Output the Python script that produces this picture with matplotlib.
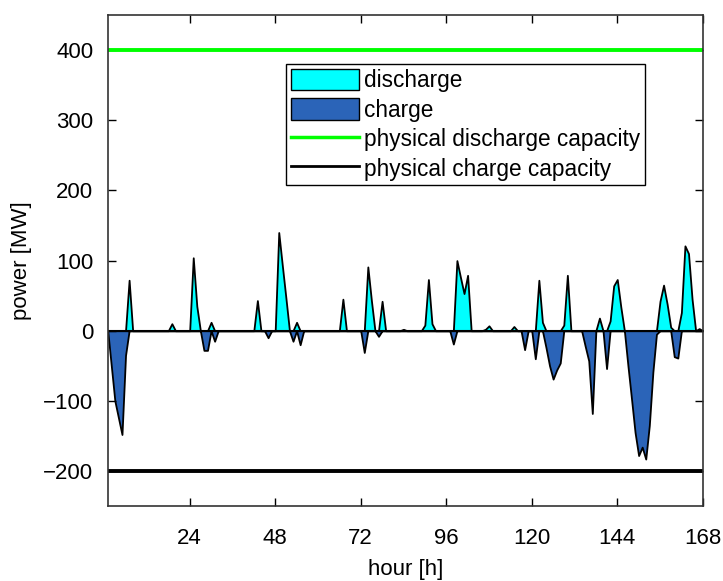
import numpy as np
import matplotlib.pyplot as plt
from matplotlib.patches import Patch
from matplotlib.lines import Line2D

# hourly storage dispatch over one week [MW]
hours = np.arange(1, 169)

discharge = [
    0, 0, 0, 0, 0, 0, 72, 0, 0, 0, 0, 0,
    0, 0, 0, 0, 0, 0, 10, 0, 0, 0, 0, 0,
    104, 35, 0, 0, 0, 12, 0, 0, 0, 0, 0, 0,
    0, 0, 0, 0, 0, 0, 43, 0, 0, 0, 0, 0,
    140, 93, 47, 0, 0, 12, 0, 0, 0, 0, 0, 0,
    0, 0, 0, 0, 0, 0, 45, 0, 0, 0, 0, 0,
    0, 91, 43, 0, 0, 42, 0, 0, 0, 0, 0, 2,
    0, 0, 0, 0, 0, 8, 73, 10, 0, 0, 0, 0,
    0, 0, 100, 76, 53, 79, 0, 0, 0, 0, 2, 7,
    0, 0, 0, 0, 0, 0, 6, 0, 0, 0, 0, 0,
    0, 72, 12, 0, 0, 0, 0, 0, 8, 79, 0, 0,
    0, 0, 0, 0, 0, 0, 18, 0, 0, 14, 64, 73,
    34, 0, 0, 0, 0, 0, 0, 0, 0, 0, 0, 42,
    65, 38, 5, 0, 0, 26, 121, 110, 45, 0, 3, 0,
]

charge = [
    0, -50, -100, -124, -148, -35, 0, 0, 0, 0, 0, 0,
    0, 0, 0, 0, 0, 0, 0, 0, 0, 0, 0, 0,
    0, 0, 0, -28, -28, 0, -15, 0, 0, 0, 0, 0,
    0, 0, 0, 0, 0, 0, 0, 0, 0, -10, 0, 0,
    0, 0, 0, 0, -15, 0, -20, 0, 0, 0, 0, 0,
    0, 0, 0, 0, 0, 0, 0, 0, 0, 0, 0, 0,
    -31, 0, 0, 0, -8, 0, 0, 0, 0, 0, 0, 0,
    0, 0, 0, 0, 0, 0, 0, 0, 0, 0, 0, 0,
    0, -19, 0, 0, 0, 0, 0, 0, 0, 0, 0, 0,
    0, 0, 0, 0, 0, 0, 0, 0, 0, -27, 0, 0,
    -40, 0, 0, -24, -50, -69, -56, -46, 0, 0, 0, 0,
    0, 0, -22, -43, -118, 0, 0, 0, -54, 0, 0, 0,
    0, 0, -50, -97, -145, -178, -166, -183, -135, -59, -5, 0,
    0, 0, 0, -37, -39, 0, 0, 0, 0, 0, 0, 0,
]

discharge_cap = 400
charge_cap = -200

x_ticks = [24, 48, 72, 96, 120, 144, 168]
y_ticks = [-200, -100, 0, 100, 200, 300, 400]

plt.rcParams["font.family"] = ["Liberation Sans", "DejaVu Sans"]
plt.rcParams["font.size"] = 16

fig = plt.figure(figsize=(7.23, 5.81), dpi=100)
ax = fig.add_axes([0.149, 0.129, 0.823, 0.845])

blue = "#2b64b8"
ax.fill_between(hours, discharge, 0, facecolor="#00ffff", edgecolor="black", linewidth=1.3)
ax.fill_between(hours, charge, 0, facecolor=blue, edgecolor="black", linewidth=1.3)
ax.axhline(0, color="black", linewidth=1.5)
ax.axhline(discharge_cap, color="#00ff00", linewidth=2.8)
ax.axhline(charge_cap, color="black", linewidth=2.8)

ax.set_xlim(1, 168)
ax.set_ylim(-250, 450)
ax.set_xticks(x_ticks)
ax.set_yticks(y_ticks)
ax.tick_params(direction="in", top=True, right=True, length=6, width=1, labelsize=16)
ax.tick_params(axis="x", pad=16)
ax.tick_params(axis="y", pad=10.5)
for sp in ax.spines.values():
    sp.set_linewidth(1.2)
    sp.set_color("#333333")

ax.set_xlabel("hour [h]", fontsize=16, labelpad=7)
ax.set_ylabel("power [MW]", fontsize=16, labelpad=8)

handles = [
    Patch(facecolor="#00ffff", edgecolor="black", linewidth=1),
    Patch(facecolor=blue, edgecolor="black", linewidth=1),
    Line2D([], [], color="#00ff00", linewidth=2.5),
    Line2D([], [], color="black", linewidth=2),
]
labels = ["discharge", "charge", "physical discharge capacity", "physical charge capacity"]
leg = ax.legend(handles, labels, loc="upper left", bbox_to_anchor=(0.30, 0.90),
                fancybox=False, framealpha=1, edgecolor="black", fontsize=16.3,
                handlelength=3.0, handleheight=1.1, handletextpad=0.25,
                labelspacing=0.26, borderpad=0.2, borderaxespad=0)
leg.get_frame().set_linewidth(1)

fig.savefig("out.png", dpi=100)
